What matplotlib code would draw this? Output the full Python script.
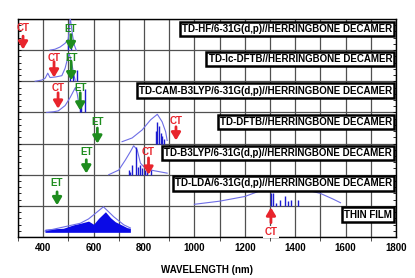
import matplotlib
matplotlib.use("Agg")
import matplotlib.pyplot as plt
from matplotlib.ticker import MultipleLocator

plt.rcParams['font.family'] = ['Liberation Sans', 'DejaVu Sans']
plt.rcParams['font.weight'] = 'bold'

# panel labels, top to bottom (row 6 .. row 0)
labels = ["TD-HF/6-31G(d,p)//HERRINGBONE DECAMER",
          "TD-lc-DFTB//HERRINGBONE DECAMER",
          "TD-CAM-B3LYP/6-31G(d,p)//HERRINGBONE DECAMER",
          "TD-DFTB//HERRINGBONE DECAMER",
          "TD-B3LYP/6-31G(d,p)//HERRINGBONE DECAMER",
          "TD-LDA/6-31G(d,p)//HERRINGBONE DECAMER",
          "THIN FILM"]

# broadened spectra (wavelength nm, height in row units)
hf_wl = [427, 447, 467, 487, 499, 503, 507, 512, 517, 524, 531]
hf_y = [0.0, 0.03, 0.1, 0.22, 0.35, 0.6, 1.05, 0.75, 0.45, 0.15, 0.0]
lc_wl = [368, 395, 408, 418, 427, 450, 474, 487, 498, 502, 507, 515, 522, 527]
lc_y = [0.0, 0.04, 0.1, 0.26, 0.12, 0.14, 0.18, 0.42, 0.77, 0.9, 0.78, 0.5, 0.2, 0.03]
cam_wl = [414, 440, 460, 487, 507, 518, 528, 535, 542, 550]
cam_y = [0.0, 0.02, 0.05, 0.22, 0.48, 0.65, 0.8, 0.6, 0.25, 0.03]
dftb_wl = [713, 753, 793, 826, 853, 872, 886, 892]
dftb_y = [0.06, 0.18, 0.44, 0.76, 0.94, 0.7, 0.38, 0.1]
b3_wl = [660, 700, 726, 746, 759, 773, 786, 806, 839, 892]
b3_y = [0.0, 0.15, 0.47, 0.74, 0.93, 0.8, 0.37, 0.2, 0.13, 0.05]
lda_wl = [1000, 1100, 1200, 1250, 1300, 1350, 1400, 1450, 1500, 1550, 1580]
lda_y = [0.05, 0.15, 0.3, 0.45, 0.6, 0.62, 0.58, 0.5, 0.4, 0.22, 0.1]

# stick spectra
hf_sticks = [(500, 0.25), (510, 0.3)]
lc_sticks = [(505, 0.3), (520, 0.25), (535, 0.35)]
cam_sticks = [(545, 0.35), (552, 0.2), (567, 0.75)]
dftb_sticks = [(849, 0.4), (853, 0.7), (859, 0.55), (866, 0.35), (872, 0.25), (879, 0.15)]
b3_sticks = [(740, 0.15), (746, 0.1), (753, 0.3), (769, 0.9), (777, 0.25), (786, 0.3),
             (793, 0.2), (803, 0.15), (813, 0.2), (826, 0.15)]
lda_sticks = [(1304, 0.4), (1312, 0.4), (1324, 0.1), (1340, 0.2), (1360, 0.32),
              (1372, 0.16), (1384, 0.18), (1412, 0.18)]

# thin film absorption
film_wl = [407, 480, 520, 547, 580, 600, 620, 647, 667, 686, 706, 733, 746]
film_y = [0.25, 0.28, 0.39, 0.44, 0.51, 0.41, 0.6, 0.81, 0.62, 0.49, 0.41, 0.3, 0.28]
film_env_wl = [407, 547, 580, 600, 639, 680, 720, 746]
film_env_y = [0.19, 0.44, 0.58, 0.71, 0.97, 0.65, 0.39, 0.29]
film_base = 0.15

# arrows: (wavelength, text y, tail y, tip y)
ct_arrows = [(320, 6.72, 6.45, 6.02), (443, 5.76, 5.63, 5.12), (459, 4.79, 4.63, 4.12),
             (927, 3.73, 3.54, 3.1), (818, 2.73, 2.54, 2.0)]
et_arrows = [(510, 6.69, 6.5, 6.0), (511, 5.76, 5.63, 5.03), (547, 4.79, 4.63, 4.06),
             (615, 3.7, 3.5, 3.0), (571, 2.74, 2.48, 2.04), (455, 1.74, 1.45, 1.02)]
ct_up = (1304, 0.16, 0.46, 0.95)

env_color = '#6e6ee6'
stick_color = '#1c1cd0'
red = '#e8242c'
green = '#1e8c1e'

fig = plt.figure(figsize=(4.15, 2.78), dpi=100)
ax = fig.add_axes([0.0434, 0.1475, 0.9106, 0.7842])

spectra = [(hf_wl, hf_y, hf_sticks), (lc_wl, lc_y, lc_sticks), (cam_wl, cam_y, cam_sticks),
           (dftb_wl, dftb_y, dftb_sticks), (b3_wl, b3_y, b3_sticks), (lda_wl, lda_y, lda_sticks)]
for k, (wl, yy, sticks) in enumerate(spectra):
    base = 6 - k
    ax.plot(wl, [base + v for v in yy], color=env_color, lw=0.8, zorder=3)
    for s_wl, s_h in sticks:
        ax.vlines(s_wl, base, base + s_h, color=stick_color, lw=1.0, zorder=3)

ax.fill_between(film_wl, film_base, film_y, color='#0a0ae6', lw=0, zorder=3)
ax.plot(film_env_wl, film_env_y, color=env_color, lw=0.8, zorder=3)

arrow_kw = dict(arrowstyle='-|>,head_length=0.5,head_width=0.3', lw=2.0, mutation_scale=9,
                shrinkA=0, shrinkB=0)
for wl, ty, y0, y1 in ct_arrows:
    ax.annotate('', xy=(wl, y1), xytext=(wl, y0), arrowprops=dict(color=red, **arrow_kw), zorder=5)
    ax.text(wl, ty, 'CT', color=red, fontsize=7, ha='center', va='center', zorder=5)
for wl, ty, y0, y1 in et_arrows:
    ax.annotate('', xy=(wl, y1), xytext=(wl, y0), arrowprops=dict(color=green, **arrow_kw), zorder=5)
    ax.text(wl, ty, 'ET', color=green, fontsize=7, ha='center', va='center', zorder=5)
wl, ty, y0, y1 = ct_up
ax.annotate('', xy=(wl, y1), xytext=(wl, y0), arrowprops=dict(color=red, **arrow_kw), zorder=5)
ax.text(wl, ty, 'CT', color=red, fontsize=7, ha='center', va='center', zorder=5,
        bbox=dict(facecolor='white', edgecolor='none', pad=1))

label_y = [6.69, 5.72, 4.7, 3.7, 2.7, 1.72, 0.72]
for lab, y in zip(labels, label_y):
    ax.text(1785, y, lab, fontsize=7, ha='right', va='center', zorder=6,
            bbox=dict(boxstyle='square,pad=0.22', facecolor='white', edgecolor='black', lw=1.8))

ax.set_xlim(300, 1800)
ax.set_ylim(0, 7)
ax.xaxis.set_major_locator(MultipleLocator(200))
ax.xaxis.set_minor_locator(MultipleLocator(100))
ax.yaxis.set_major_locator(MultipleLocator(1))
ax.yaxis.set_minor_locator(MultipleLocator(0.2))
ax.grid(True, which='major', color='#505050', lw=0.9, zorder=0)
ax.grid(True, which='minor', axis='x', color='#505050', lw=0.9, zorder=0)
ax.set_axisbelow(True)
ax.tick_params(axis='x', which='major', length=0, labelsize=7, pad=4)
ax.tick_params(axis='x', which='minor', length=3, direction='out', color='#333333')
ax.tick_params(axis='y', which='both', direction='in', left=True, right=True,
               labelleft=False, length=2, width=0.6)
for lab in ax.get_xticklabels():
    lab.set_fontweight('bold')
for sp in ax.spines.values():
    sp.set_linewidth(1.0)
ax.set_xlabel('WAVELENGTH (nm)', fontsize=7, fontweight='bold', labelpad=9)

fig.savefig('out.png', dpi=100)
